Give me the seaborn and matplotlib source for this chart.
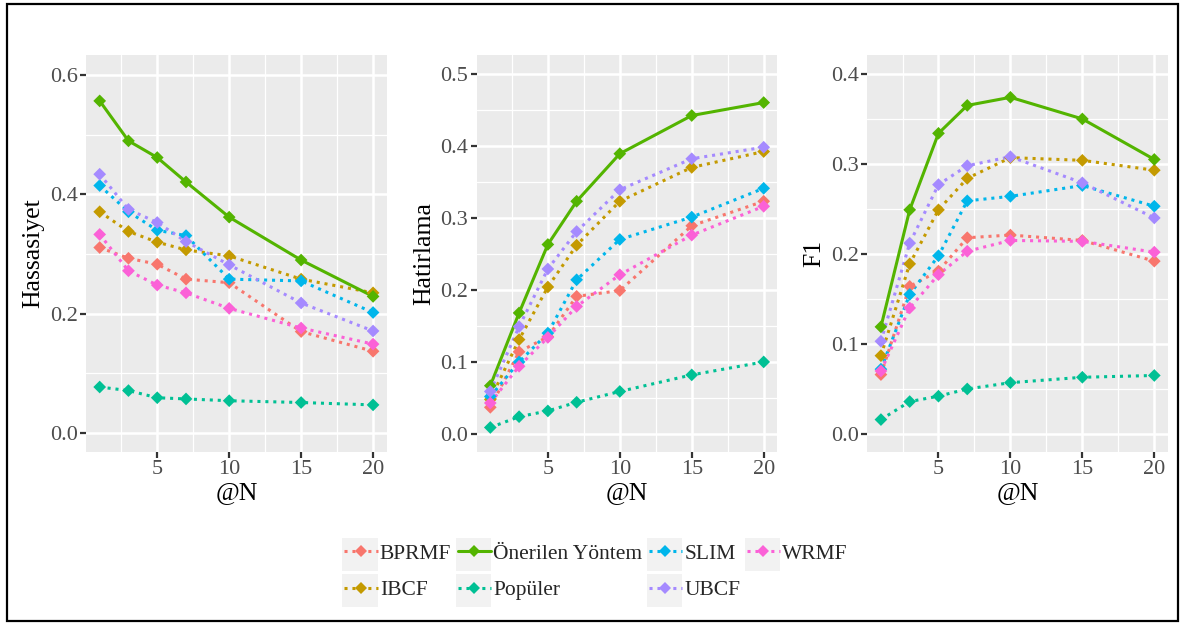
import pandas as pd
import matplotlib
matplotlib.use('Agg')
import matplotlib.pyplot as plt
import seaborn as sns
from matplotlib.lines import Line2D
from matplotlib.patches import Rectangle
from matplotlib.ticker import MultipleLocator, FormatStrFormatter

# ─────────────────────────── Data ─────────────────────────────────────────────
N = [1, 3, 5, 7, 10, 15, 20]
methods = ['BPRMF', 'IBCF', 'Önerilen Yöntem', 'Popüler', 'SLIM', 'UBCF', 'WRMF']
colors = ['#F8766D', '#C49A00', '#53B400', '#00C094', '#00B6EB', '#A58AFF', '#FB61D7']

# Hassasiyet (precision)
bprmf_p = [0.311, 0.293, 0.283, 0.258, 0.252, 0.170, 0.137]
ibcf_p  = [0.371, 0.338, 0.320, 0.307, 0.297, 0.258, 0.235]
oner_p  = [0.557, 0.490, 0.462, 0.421, 0.362, 0.290, 0.229]
pop_p   = [0.077, 0.071, 0.059, 0.057, 0.054, 0.051, 0.047]
slim_p  = [0.415, 0.371, 0.340, 0.331, 0.258, 0.255, 0.202]
ubcf_p  = [0.434, 0.375, 0.353, 0.321, 0.282, 0.218, 0.171]
wrmf_p  = [0.333, 0.272, 0.248, 0.235, 0.209, 0.176, 0.149]

# Hatirlama (recall)
bprmf_r = [0.037, 0.114, 0.135, 0.191, 0.199, 0.289, 0.323]
ibcf_r  = [0.048, 0.131, 0.204, 0.262, 0.323, 0.370, 0.392]
oner_r  = [0.067, 0.168, 0.263, 0.323, 0.389, 0.442, 0.460]
pop_r   = [0.009, 0.024, 0.032, 0.044, 0.059, 0.082, 0.100]
slim_r  = [0.052, 0.100, 0.140, 0.214, 0.270, 0.301, 0.341]
ubcf_r  = [0.059, 0.149, 0.229, 0.281, 0.339, 0.382, 0.398]
wrmf_r  = [0.043, 0.094, 0.134, 0.177, 0.221, 0.276, 0.316]

# F1
bprmf_f = [0.066, 0.164, 0.181, 0.218, 0.221, 0.215, 0.192]
ibcf_f  = [0.087, 0.189, 0.249, 0.284, 0.307, 0.304, 0.293]
oner_f  = [0.119, 0.249, 0.334, 0.365, 0.374, 0.350, 0.305]
pop_f   = [0.016, 0.036, 0.042, 0.050, 0.057, 0.063, 0.065]
slim_f  = [0.072, 0.155, 0.198, 0.259, 0.264, 0.276, 0.253]
ubcf_f  = [0.103, 0.212, 0.277, 0.298, 0.308, 0.279, 0.240]
wrmf_f  = [0.070, 0.140, 0.177, 0.203, 0.215, 0.214, 0.202]

metric_data = {
    'Hassasiyet': [bprmf_p, ibcf_p, oner_p, pop_p, slim_p, ubcf_p, wrmf_p],
    'Hatirlama':  [bprmf_r, ibcf_r, oner_r, pop_r, slim_r, ubcf_r, wrmf_r],
    'F1':         [bprmf_f, ibcf_f, oner_f, pop_f, slim_f, ubcf_f, wrmf_f],
}

rows = []
for metric, series in metric_data.items():
    for m, vals in zip(methods, series):
        for n, v in zip(N, vals):
            rows.append({'metric': metric, 'Yöntem': m, '@N': n, 'value': v})
df = pd.DataFrame(rows)

# ─────────────────────────── Style ────────────────────────────────────────────
sns.set_theme(style='darkgrid', rc={'axes.facecolor': '#EBEBEB', 'grid.color': 'white'})
plt.rcParams['font.family'] = ['Liberation Serif', 'DejaVu Serif']

palette = dict(zip(methods, colors))
dashes = {m: ((1, 1.6) if m != 'Önerilen Yöntem' else '') for m in methods}

# panel-specific y settings: (ylim, major step, minor step)
y_cfg = {
    'Hassasiyet': ((-0.032, 0.634), 0.2, 0.1),
    'Hatirlama':  ((-0.025, 0.526), 0.1, 0.05),
    'F1':         ((-0.02, 0.421), 0.1, 0.05),
}

fig, axes = plt.subplots(1, 3, figsize=(11.8, 6.23), dpi=100)
plt.subplots_adjust(left=0.0729, right=0.9898, bottom=0.2745, top=0.9117, wspace=0.299)

for ax, metric in zip(axes, metric_data.keys()):
    sub = df[df['metric'] == metric]
    sns.lineplot(data=sub, x='@N', y='value', hue='Yöntem', style='Yöntem',
                 hue_order=methods, style_order=methods, palette=palette,
                 dashes=dashes, linewidth=2.2, legend=False, ax=ax)
    sns.scatterplot(data=sub, x='@N', y='value', hue='Yöntem', hue_order=methods,
                    palette=palette, marker='D', s=42, linewidth=0, legend=False,
                    ax=ax, zorder=3)
    ylim, major, minor = y_cfg[metric]
    ax.set_xlim(0.05, 20.95)
    ax.set_ylim(*ylim)
    ax.xaxis.set_major_locator(MultipleLocator(5))
    ax.xaxis.set_minor_locator(MultipleLocator(2.5))
    ax.yaxis.set_major_locator(MultipleLocator(major))
    ax.yaxis.set_minor_locator(MultipleLocator(minor))
    ax.yaxis.set_major_formatter(FormatStrFormatter('%.1f'))
    ax.grid(which='major', color='white', linewidth=1.8)
    ax.grid(which='minor', color='white', linewidth=0.9)
    ax.tick_params(which='major', length=4, width=1.6, color='#333333',
                   labelsize=16, labelcolor='#4D4D4D', pad=2,
                   bottom=True, left=True)
    ax.tick_params(which='minor', length=0)
    for s in ax.spines.values():
        s.set_visible(False)
    ax.set_xlabel('@N', fontsize=18.5, color='black', labelpad=2)
    ax.set_ylabel(metric, fontsize=18.5, color='black', labelpad=4)

# ─────────────────────────── Legend ───────────────────────────────────────────
handles = [Line2D([0], [0], color=c, linewidth=2.2,
                  linestyle='-' if m == 'Önerilen Yöntem' else (0, (1, 1.6)),
                  marker='D', markersize=6.5, markeredgewidth=0)
           for m, c in zip(methods, colors)]
leg = fig.legend(handles, methods, loc='center', bbox_to_anchor=(0.505, 0.082),
                 ncol=4, frameon=False, fontsize=15.5, handlelength=1.55,
                 handletextpad=0.1, columnspacing=0.3, labelspacing=0.75)

# light grey key boxes behind legend handles (ggplot style)
fig.canvas.draw()
fs_px = 15.5 * fig.dpi / 72
key_w = 1.55 * fs_px + 2
key_h = 33
for txt in leg.get_texts():
    bb = txt.get_window_extent()
    yc = (bb.y0 + bb.y1) / 2
    x0 = bb.x0 - 0.1 * fs_px - key_w
    fig.add_artist(Rectangle((x0 / fig.bbox.width, (yc - key_h / 2) / fig.bbox.height),
                             key_w / fig.bbox.width, key_h / fig.bbox.height,
                             transform=fig.transFigure, facecolor='#F2F2F2',
                             edgecolor='none', zorder=0))

# outer frame around the whole picture
fig.add_artist(Rectangle((0.006, 0.003), 0.9924, 0.990, transform=fig.transFigure,
                         fill=False, edgecolor='black', linewidth=1.6))

fig.savefig('out.png', dpi=100)
